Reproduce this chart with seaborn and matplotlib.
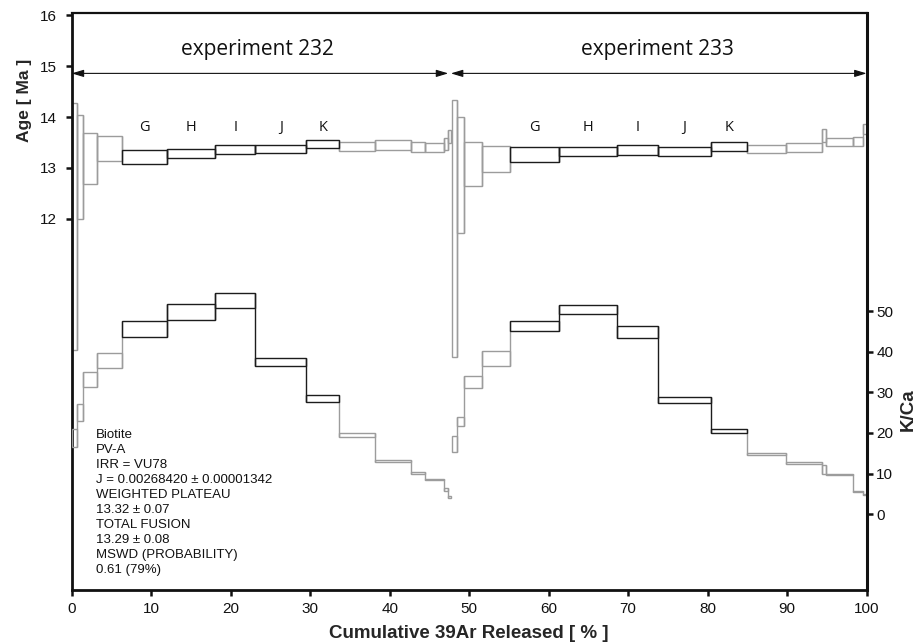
import numpy as np
import matplotlib
matplotlib.use("Agg")
import matplotlib.pyplot as plt
import seaborn as sns

# step edges, % cumulative 39Ar released
exp232_edges = [0.0, 0.63, 1.46, 3.14, 6.33, 11.95, 18.06, 23.09, 29.51,
                33.62, 38.19, 42.64, 44.47, 46.87, 47.30, 47.67]
exp233_edges = [47.80, 48.43, 49.35, 51.65, 55.13, 61.33, 68.63, 73.71,
                80.42, 84.98, 89.85, 94.42, 94.88, 98.24, 99.50, 100.0]

# apparent ages (Ma), lower / upper edge of each box
exp232_age_lo = [9.41, 11.99, 12.69, 13.14, 13.07, 13.19, 13.28, 13.30,
                 13.40, 13.33, 13.36, 13.31, 13.31, 13.35, 13.48]
exp232_age_hi = [14.28, 14.05, 13.69, 13.62, 13.35, 13.38, 13.45, 13.45,
                 13.55, 13.51, 13.55, 13.51, 13.48, 13.59, 13.74]
exp233_age_lo = [9.28, 11.71, 12.65, 12.91, 13.12, 13.24, 13.25, 13.24,
                 13.33, 13.29, 13.31, 13.50, 13.43, 13.43, 13.66]
exp233_age_hi = [14.33, 14.00, 13.50, 13.43, 13.41, 13.41, 13.46, 13.41,
                 13.50, 13.46, 13.48, 13.76, 13.59, 13.61, 13.86]

# K/Ca, lower / upper edge of each box
exp232_kca_lo = [16.6, 23.0, 31.2, 36.1, 43.6, 47.8, 50.8, 36.5, 27.5,
                 19.1, 12.9, 9.8, 8.3, 5.8, 4.0]
exp232_kca_hi = [20.9, 27.2, 35.1, 39.7, 47.7, 51.7, 54.5, 38.5, 29.4,
                 19.9, 13.4, 10.4, 8.7, 6.4, 4.5]
exp233_kca_lo = [15.4, 21.7, 31.0, 36.4, 45.0, 49.2, 43.3, 27.3, 20.0,
                 14.5, 12.4, 10.0, 9.7, 5.5, 4.6]
exp233_kca_hi = [19.3, 24.0, 34.1, 40.1, 47.5, 51.6, 46.3, 28.9, 20.9,
                 15.1, 12.9, 12.0, 10.0, 5.8, 4.9]

plateau_idx = [4, 5, 6, 7, 8]
plateau_labels = ["G", "H", "I", "J", "K"]

info_lines = ["Biotite", "PV-A", "IRR = VU78",
              "J = 0.00268420 \u00b1 0.00001342",
              "WEIGHTED PLATEAU", "13.32 \u00b1 0.07",
              "TOTAL FUSION", "13.29 \u00b1 0.08",
              "MSWD (PROBABILITY)", "0.61 (79%)"]

GRAY = "#9c9c9c"
DARK = "#1c1c1c"
LW = 1.0


def draw_steps(ax, edges, lo, hi, plateau):
    edges = np.asarray(edges)
    lo = np.asarray(lo)
    hi = np.asarray(hi)
    left = edges[:-1]
    width = np.diff(edges)
    plat = np.zeros(len(lo), dtype=bool)
    plat[plateau] = True

    # vertical connectors between neighbouring steps
    b = edges[1:-1]
    cmin = np.minimum(lo[:-1], lo[1:])
    cmax = np.maximum(hi[:-1], hi[1:])
    dconn = plat[:-1] & plat[1:]
    ax.vlines(b[~dconn], cmin[~dconn], cmax[~dconn], color=GRAY, lw=LW, zorder=2)
    ax.bar(left[~plat], (hi - lo)[~plat], bottom=lo[~plat], width=width[~plat],
           align="edge", fill=False, edgecolor=GRAY, lw=LW, zorder=2)
    ax.vlines(b[dconn], cmin[dconn], cmax[dconn], color=DARK, lw=LW, zorder=3)
    ax.bar(left[plat], (hi - lo)[plat], bottom=lo[plat], width=width[plat],
           align="edge", fill=False, edgecolor=DARK, lw=LW, zorder=3)


sns.set_theme(style="ticks")
plt.rcParams["font.family"] = ["Liberation Sans", "DejaVu Sans"]

fig = plt.figure(figsize=(9.19, 6.44), dpi=100)
ax = fig.add_axes([0.078, 0.0839, 0.865, 0.896])
ax2 = ax.twinx()

draw_steps(ax, exp232_edges, exp232_age_lo, exp232_age_hi, plateau_idx)
draw_steps(ax, exp233_edges, exp233_age_lo, exp233_age_hi, plateau_idx)
draw_steps(ax2, exp232_edges, exp232_kca_lo, exp232_kca_hi, plateau_idx)
draw_steps(ax2, exp233_edges, exp233_kca_lo, exp233_kca_hi, plateau_idx)

ax.set_xlim(0, 100)
ax.set_ylim(4.69, 16.05)
ax2.set_ylim(-18.7, 123.5)

ax.set_xticks(range(0, 101, 10))
ax.set_yticks([12, 13, 14, 15, 16])
ax2.set_yticks([0, 10, 20, 30, 40, 50])

# step letters above plateau boxes
for edges in [exp232_edges, exp233_edges]:
    for i, lab in zip(plateau_idx, plateau_labels):
        xc = (edges[i] + edges[i + 1]) / 2
        ax.text(xc, 13.80, lab, ha="center", va="center", fontsize=10.5,
                family=["Open Sans", "DejaVu Sans"], color="#111111")

# experiment arrows
arrow_kw = dict(arrowstyle="<|-|>,head_length=0.6,head_width=0.18", lw=0.8,
                color="#111111", shrinkA=0, shrinkB=0)
ax.annotate("", xy=(0, 14.86), xytext=(exp232_edges[-1] - 0.3, 14.86), arrowprops=arrow_kw)
ax.annotate("", xy=(exp233_edges[0] - 0.1, 14.86), xytext=(100, 14.86), arrowprops=arrow_kw)
ax.text(23.4, 15.33, "experiment 232", ha="center", va="center", fontsize=15,
        family=["Open Sans", "DejaVu Sans"], color="#111111")
ax.text(73.7, 15.33, "experiment 233", ha="center", va="center", fontsize=15,
        family=["Open Sans", "DejaVu Sans"], color="#111111")

ax.text(3.1, 7.86, "\n".join(info_lines), ha="left", va="top", fontsize=9.5,
        linespacing=1.33, color="#111111")

# spines and ticks
for s in ["left", "top", "bottom"]:
    ax.spines[s].set_linewidth(2.0)
    ax.spines[s].set_color("#111111")
ax.spines["top"].set_linewidth(1.6)
ax.spines["right"].set_visible(False)
for s in ["left", "top", "bottom"]:
    ax2.spines[s].set_visible(False)
ax2.spines["right"].set_linewidth(2.2)
ax2.spines["right"].set_color("#111111")

ax.tick_params(axis="y", length=4, width=1.8, pad=7, labelsize=11, colors="#111111")
ax.tick_params(axis="x", length=4, width=1.8, pad=5, labelsize=11, colors="#111111")
ax2.tick_params(axis="y", length=4, width=1.8, pad=3, labelsize=11, colors="#111111")

ax.set_xlabel("Cumulative 39Ar Released [ % ]", fontsize=13.5, fontweight="bold")
ax.xaxis.set_label_coords(0.5, -0.06)
ax.set_ylabel("Age [ Ma ]", fontsize=12.5, fontweight="bold")
ax.yaxis.set_label_coords(-0.05, 0.849)
ax2.set_ylabel("K/Ca", fontsize=13.5, fontweight="bold")
ax2.yaxis.set_label_coords(1.042, 0.312)

fig.savefig("out.png", dpi=100)
